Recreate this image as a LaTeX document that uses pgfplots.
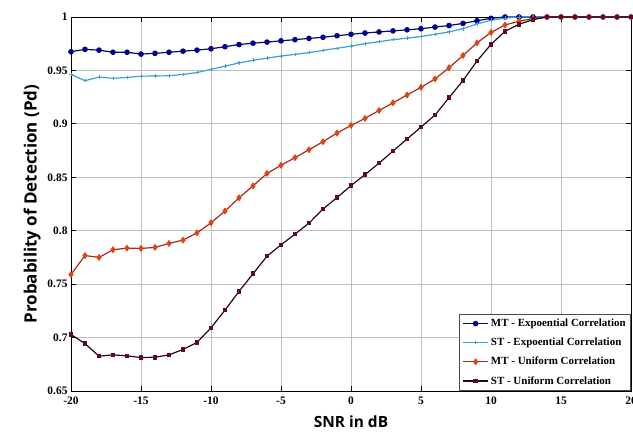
\documentclass[border=0pt]{standalone}
\usepackage{fontspec}
\usepackage{pgfplots}
\pgfplotsset{compat=1.18}
\setmainfont{Liberation Serif}
\newfontfamily\labelfont{Open Sans}
\definecolor{mtexpline}{RGB}{10,10,90}
\definecolor{mtexpmark}{RGB}{0,0,150}
\definecolor{stexp}{RGB}{60,160,210}
\definecolor{mtuniline}{RGB}{170,40,20}
\definecolor{mtunimark}{RGB}{220,70,20}
\definecolor{stuniline}{RGB}{35,10,10}
\definecolor{stunimark}{RGB}{100,10,25}
\definecolor{gridgray}{RGB}{190,190,190}
\begin{document}
\begin{tikzpicture}
\useasboundingbox (-71bp,-48bp) rectangle (562bp,391bp);
\begin{axis}[
  scale only axis,
  width=560bp, height=374bp,
  xmin=-20, xmax=20, ymin=0.65, ymax=1,
  xtick={-20,-15,-10,-5,0,5,10,15,20},
  xticklabels={-20,-15,-10,-5,0,5,10,15,20},
  ytick={0.65,0.7,0.75,0.8,0.85,0.9,0.95,1},
  yticklabels={0.65,0.7,0.75,0.8,0.85,0.9,0.95,1},
  tick label style={font=\bfseries\fontsize{11.5}{12}\selectfont},
  xticklabel style={yshift=-2bp},
  tick align=inside,
  major tick length=5bp,
  tick style={black, line width=0.9pt},
  axis line style={black, line width=0.9pt},
  grid=major,
  grid style={gridgray, line width=1pt},
  xlabel={SNR in dB},
  ylabel={Probability of Detection (Pd)},
  xlabel style={font=\labelfont\bfseries\fontsize{15.5}{18}\selectfont, at={(0.5,0)}, anchor=north, yshift=-21bp},
  ylabel style={font=\labelfont\bfseries\fontsize{17}{19}\selectfont, yshift=0bp},
  clip=false,
  legend style={at={(1,0)}, anchor=south east, draw=black!70, line width=0.8pt,
    font=\bfseries\fontsize{11}{12}\selectfont, fill=white,
    row sep=6bp, inner sep=3bp, cells={anchor=west}},
  legend image code/.code={\draw[mark repeat=2,mark phase=2] plot coordinates {(0cm,0cm) (0.45cm,0cm) (0.9cm,0cm)};},
]
\addplot[color=mtexpline, line width=1.2pt, mark=*, mark size=2.2pt, mark options={fill=mtexpmark, draw=mtexpmark}] coordinates {
(-20,0.9675) (-19,0.9697) (-18,0.9690) (-17,0.9670) (-16,0.9670) (-15,0.9653) (-14,0.9660) (-13,0.9670) (-12,0.9680) (-11,0.9690)
(-10,0.9703) (-9,0.9722) (-8,0.9742) (-7,0.9755) (-6,0.9765) (-5,0.9777) (-4,0.9788) (-3,0.9800) (-2,0.9810) (-1,0.9825)
(0,0.9838) (1,0.9850) (2,0.9860) (3,0.9870) (4,0.9880) (5,0.9890) (6,0.9906) (7,0.9920) (8,0.9940) (9,0.9965)
(10,0.9988) (11,1.0) (12,1.0) (13,1.0) (14,1.0) (15,1.0) (16,1.0) (17,1.0) (18,1.0) (19,1.0) (20,1.0)};
\addlegendentry{MT - Expoential Correlation}
\addplot[color=stexp, line width=1.2pt, mark=+, mark size=1.8pt, mark options={line width=1pt}] coordinates {
(-20,0.9463) (-19,0.9404) (-18,0.9438) (-17,0.9426) (-16,0.9435) (-15,0.9446) (-14,0.9448) (-13,0.9450) (-12,0.9463) (-11,0.9480)
(-10,0.9510) (-9,0.9540) (-8,0.9570) (-7,0.9595) (-6,0.9615) (-5,0.9635) (-4,0.9650) (-3,0.9666) (-2,0.9688) (-1,0.9707)
(0,0.9728) (1,0.9750) (2,0.9769) (3,0.9788) (4,0.9802) (5,0.9818) (6,0.9838) (7,0.9860) (8,0.9890) (9,0.9935)
(10,0.9970) (11,0.9990) (12,1.0) (13,1.0) (14,1.0) (15,1.0) (16,1.0) (17,1.0) (18,1.0) (19,1.0) (20,1.0)};
\addlegendentry{ST - Expoential Correlation}
\addplot[color=mtuniline, line width=1.2pt, mark=diamond*, mark size=2.6pt, mark options={fill=mtunimark, draw=mtunimark}] coordinates {
(-20,0.7590) (-19,0.7768) (-18,0.7750) (-17,0.7822) (-16,0.7837) (-15,0.7834) (-14,0.7844) (-13,0.7881) (-12,0.7912) (-11,0.7980)
(-10,0.8074) (-9,0.8184) (-8,0.8308) (-7,0.8420) (-6,0.8536) (-5,0.8612) (-4,0.8684) (-3,0.8758) (-2,0.8833) (-1,0.8914)
(0,0.8985) (1,0.9051) (2,0.9125) (3,0.9197) (4,0.9270) (5,0.9342) (6,0.9420) (7,0.9525) (8,0.9640) (9,0.9758)
(10,0.9855) (11,0.9925) (12,0.9960) (13,0.9985) (14,1.0) (15,1.0) (16,1.0) (17,1.0) (18,1.0) (19,1.0) (20,1.0)};
\addlegendentry{MT - Uniform Correlation}
\addplot[color=stuniline, line width=1.2pt, mark=square*, mark size=1.7pt, mark options={fill=stunimark, draw=stunimark}] coordinates {
(-20,0.7029) (-19,0.6944) (-18,0.6826) (-17,0.6838) (-16,0.6829) (-15,0.6813) (-14,0.6816) (-13,0.6838) (-12,0.6889) (-11,0.6954)
(-10,0.7091) (-9,0.7257) (-8,0.7432) (-7,0.7597) (-6,0.7762) (-5,0.7868) (-4,0.7968) (-3,0.8071) (-2,0.8203) (-1,0.8310)
(0,0.8422) (1,0.8525) (2,0.8632) (3,0.8745) (4,0.8858) (5,0.8970) (6,0.9082) (7,0.9245) (8,0.9405) (9,0.9588)
(10,0.9744) (11,0.9866) (12,0.9932) (13,0.9975) (14,1.0) (15,1.0) (16,1.0) (17,1.0) (18,1.0) (19,1.0) (20,1.0)};
\addlegendentry{ST - Uniform Correlation}
\end{axis}
\end{tikzpicture}
\end{document}
